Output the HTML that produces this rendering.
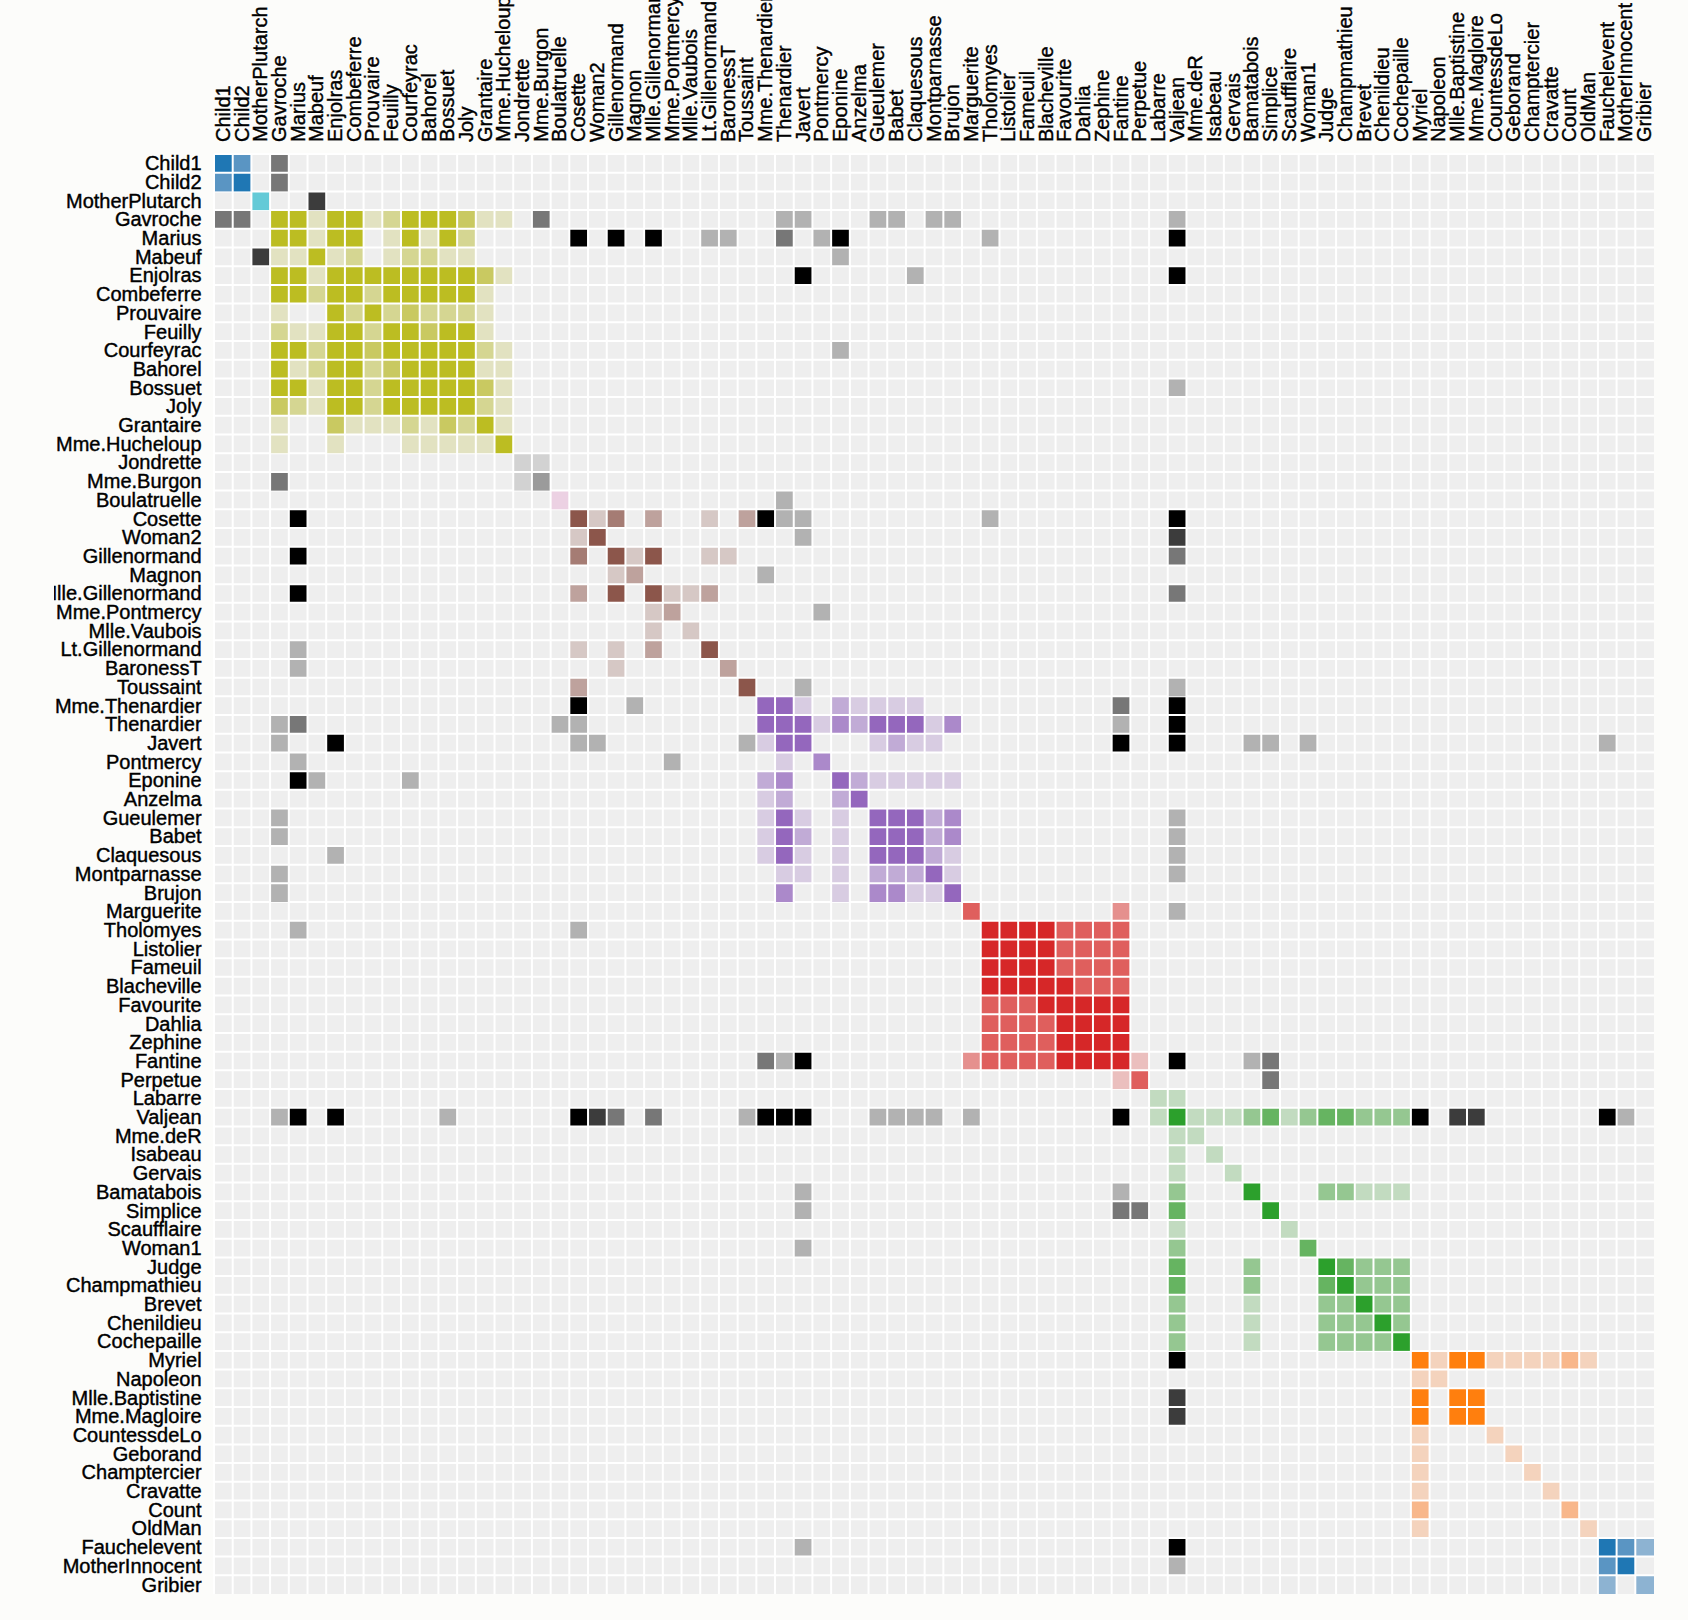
<!DOCTYPE html>
<html lang="en">
<head>
<meta charset="utf-8">
<title>Les Misérables Co-occurrence</title>
<style>
html,body{margin:0;padding:0;background:#fcfcfa;}
body{width:1688px;height:1620px;overflow:hidden;position:relative;font-family:"Liberation Sans",sans-serif;}
svg{position:absolute;left:54px;top:-6px;overflow:hidden;font:20px "Liberation Sans",sans-serif;}
.background{fill:#eee;}
line{stroke:#fff;stroke-width:2;}
text{fill:#000;stroke:#000;stroke-width:0.4px;}
</style>
</head>
<body>
<svg width="1600" height="1626" viewBox="0 0 1600 1626">
<g transform="translate(160,160)">
<rect class="background" width="1440" height="1440"/>
<g class="row" transform="translate(0,1196.88)"><rect x="1196.88" width="18.7" height="18.7" fill="#ff7f0e"/><rect x="1215.58" width="18.7" height="18.7" fill="#f4d3bd"/><rect x="1234.29" width="18.7" height="18.7" fill="#ff7f0e"/><rect x="1252.99" width="18.7" height="18.7" fill="#ff7f0e"/><rect x="1271.69" width="18.7" height="18.7" fill="#f4d3bd"/><rect x="1290.39" width="18.7" height="18.7" fill="#f4d3bd"/><rect x="1309.09" width="18.7" height="18.7" fill="#f4d3bd"/><rect x="1327.79" width="18.7" height="18.7" fill="#f4d3bd"/><rect x="1346.49" width="18.7" height="18.7" fill="#f8b78b"/><rect x="1365.19" width="18.7" height="18.7" fill="#f4d3bd"/><rect x="953.77" width="18.7" height="18.7" fill="#000000"/><line x2="1440"/><text transform="translate(0,-1196.88)" x="-12.4" y="1213" text-anchor="end">Myriel</text></g>
<g class="row" transform="translate(0,1215.58)"><rect x="1196.88" width="18.7" height="18.7" fill="#f4d3bd"/><rect x="1215.58" width="18.7" height="18.7" fill="#f4d3bd"/><line x2="1440"/><text transform="translate(0,-1215.58)" x="-12.4" y="1232" text-anchor="end">Napoleon</text></g>
<g class="row" transform="translate(0,1234.29)"><rect x="1196.88" width="18.7" height="18.7" fill="#ff7f0e"/><rect x="1234.29" width="18.7" height="18.7" fill="#ff7f0e"/><rect x="1252.99" width="18.7" height="18.7" fill="#ff7f0e"/><rect x="953.77" width="18.7" height="18.7" fill="#3c3c3c"/><line x2="1440"/><text transform="translate(0,-1234.29)" x="-12.4" y="1251" text-anchor="end">Mlle.Baptistine</text></g>
<g class="row" transform="translate(0,1252.99)"><rect x="1196.88" width="18.7" height="18.7" fill="#ff7f0e"/><rect x="1234.29" width="18.7" height="18.7" fill="#ff7f0e"/><rect x="1252.99" width="18.7" height="18.7" fill="#ff7f0e"/><rect x="953.77" width="18.7" height="18.7" fill="#3c3c3c"/><line x2="1440"/><text transform="translate(0,-1252.99)" x="-12.4" y="1269" text-anchor="end">Mme.Magloire</text></g>
<g class="row" transform="translate(0,1271.69)"><rect x="1196.88" width="18.7" height="18.7" fill="#f4d3bd"/><rect x="1271.69" width="18.7" height="18.7" fill="#f4d3bd"/><line x2="1440"/><text transform="translate(0,-1271.69)" x="-12.4" y="1288" text-anchor="end">CountessdeLo</text></g>
<g class="row" transform="translate(0,1290.39)"><rect x="1196.88" width="18.7" height="18.7" fill="#f4d3bd"/><rect x="1290.39" width="18.7" height="18.7" fill="#f4d3bd"/><line x2="1440"/><text transform="translate(0,-1290.39)" x="-12.4" y="1307" text-anchor="end">Geborand</text></g>
<g class="row" transform="translate(0,1309.09)"><rect x="1196.88" width="18.7" height="18.7" fill="#f4d3bd"/><rect x="1309.09" width="18.7" height="18.7" fill="#f4d3bd"/><line x2="1440"/><text transform="translate(0,-1309.09)" x="-12.4" y="1325" text-anchor="end">Champtercier</text></g>
<g class="row" transform="translate(0,1327.79)"><rect x="1196.88" width="18.7" height="18.7" fill="#f4d3bd"/><rect x="1327.79" width="18.7" height="18.7" fill="#f4d3bd"/><line x2="1440"/><text transform="translate(0,-1327.79)" x="-12.4" y="1344" text-anchor="end">Cravatte</text></g>
<g class="row" transform="translate(0,1346.49)"><rect x="1196.88" width="18.7" height="18.7" fill="#f8b78b"/><rect x="1346.49" width="18.7" height="18.7" fill="#f8b78b"/><line x2="1440"/><text transform="translate(0,-1346.49)" x="-12.4" y="1363" text-anchor="end">Count</text></g>
<g class="row" transform="translate(0,1365.19)"><rect x="1196.88" width="18.7" height="18.7" fill="#f4d3bd"/><rect x="1365.19" width="18.7" height="18.7" fill="#f4d3bd"/><line x2="1440"/><text transform="translate(0,-1365.19)" x="-12.4" y="1381" text-anchor="end">OldMan</text></g>
<g class="row" transform="translate(0,935.06)"><rect x="935.06" width="18.7" height="18.7" fill="#c2dbc0"/><rect x="953.77" width="18.7" height="18.7" fill="#c2dbc0"/><line x2="1440"/><text transform="translate(0,-935.06)" x="-12.4" y="951" text-anchor="end">Labarre</text></g>
<g class="row" transform="translate(0,953.77)"><rect x="1196.88" width="18.7" height="18.7" fill="#000000"/><rect x="1234.29" width="18.7" height="18.7" fill="#3c3c3c"/><rect x="1252.99" width="18.7" height="18.7" fill="#3c3c3c"/><rect x="935.06" width="18.7" height="18.7" fill="#c2dbc0"/><rect x="953.77" width="18.7" height="18.7" fill="#2ca02c"/><rect x="748.05" width="18.7" height="18.7" fill="#b2b2b2"/><rect x="972.47" width="18.7" height="18.7" fill="#c2dbc0"/><rect x="991.17" width="18.7" height="18.7" fill="#c2dbc0"/><rect x="1009.87" width="18.7" height="18.7" fill="#c2dbc0"/><rect x="897.66" width="18.7" height="18.7" fill="#000000"/><rect x="542.34" width="18.7" height="18.7" fill="#000000"/><rect x="561.04" width="18.7" height="18.7" fill="#000000"/><rect x="355.32" width="18.7" height="18.7" fill="#000000"/><rect x="579.74" width="18.7" height="18.7" fill="#000000"/><rect x="1383.9" width="18.7" height="18.7" fill="#000000"/><rect x="1028.57" width="18.7" height="18.7" fill="#95c791"/><rect x="1047.27" width="18.7" height="18.7" fill="#66b461"/><rect x="1065.97" width="18.7" height="18.7" fill="#c2dbc0"/><rect x="1084.68" width="18.7" height="18.7" fill="#95c791"/><rect x="1103.38" width="18.7" height="18.7" fill="#66b461"/><rect x="1122.08" width="18.7" height="18.7" fill="#66b461"/><rect x="1140.78" width="18.7" height="18.7" fill="#95c791"/><rect x="1159.48" width="18.7" height="18.7" fill="#95c791"/><rect x="1178.18" width="18.7" height="18.7" fill="#95c791"/><rect x="374.03" width="18.7" height="18.7" fill="#3c3c3c"/><rect x="1402.6" width="18.7" height="18.7" fill="#b2b2b2"/><rect x="56.1" width="18.7" height="18.7" fill="#b2b2b2"/><rect x="392.73" width="18.7" height="18.7" fill="#777777"/><rect x="430.13" width="18.7" height="18.7" fill="#777777"/><rect x="74.81" width="18.7" height="18.7" fill="#000000"/><rect x="112.21" width="18.7" height="18.7" fill="#000000"/><rect x="224.42" width="18.7" height="18.7" fill="#b2b2b2"/><rect x="654.55" width="18.7" height="18.7" fill="#b2b2b2"/><rect x="673.25" width="18.7" height="18.7" fill="#b2b2b2"/><rect x="691.95" width="18.7" height="18.7" fill="#b2b2b2"/><rect x="710.65" width="18.7" height="18.7" fill="#b2b2b2"/><rect x="523.64" width="18.7" height="18.7" fill="#b2b2b2"/><line x2="1440"/><text transform="translate(0,-953.77)" x="-12.4" y="970" text-anchor="end">Valjean</text></g>
<g class="row" transform="translate(0,748.05)"><rect x="953.77" width="18.7" height="18.7" fill="#b2b2b2"/><rect x="748.05" width="18.7" height="18.7" fill="#df5f5d"/><rect x="897.66" width="18.7" height="18.7" fill="#e5908e"/><line x2="1440"/><text transform="translate(0,-748.05)" x="-12.4" y="764" text-anchor="end">Marguerite</text></g>
<g class="row" transform="translate(0,972.47)"><rect x="953.77" width="18.7" height="18.7" fill="#c2dbc0"/><rect x="972.47" width="18.7" height="18.7" fill="#c2dbc0"/><line x2="1440"/><text transform="translate(0,-972.47)" x="-12.4" y="989" text-anchor="end">Mme.deR</text></g>
<g class="row" transform="translate(0,991.17)"><rect x="953.77" width="18.7" height="18.7" fill="#c2dbc0"/><rect x="991.17" width="18.7" height="18.7" fill="#c2dbc0"/><line x2="1440"/><text transform="translate(0,-991.17)" x="-12.4" y="1007" text-anchor="end">Isabeau</text></g>
<g class="row" transform="translate(0,1009.87)"><rect x="953.77" width="18.7" height="18.7" fill="#c2dbc0"/><rect x="1009.87" width="18.7" height="18.7" fill="#c2dbc0"/><line x2="1440"/><text transform="translate(0,-1009.87)" x="-12.4" y="1026" text-anchor="end">Gervais</text></g>
<g class="row" transform="translate(0,766.75)"><rect x="766.75" width="18.7" height="18.7" fill="#d62728"/><rect x="785.45" width="18.7" height="18.7" fill="#d62728"/><rect x="804.16" width="18.7" height="18.7" fill="#d62728"/><rect x="822.86" width="18.7" height="18.7" fill="#d62728"/><rect x="841.56" width="18.7" height="18.7" fill="#df5f5d"/><rect x="860.26" width="18.7" height="18.7" fill="#df5f5d"/><rect x="878.96" width="18.7" height="18.7" fill="#df5f5d"/><rect x="897.66" width="18.7" height="18.7" fill="#df5f5d"/><rect x="355.32" width="18.7" height="18.7" fill="#b2b2b2"/><rect x="74.81" width="18.7" height="18.7" fill="#b2b2b2"/><line x2="1440"/><text transform="translate(0,-766.75)" x="-12.4" y="783" text-anchor="end">Tholomyes</text></g>
<g class="row" transform="translate(0,785.45)"><rect x="766.75" width="18.7" height="18.7" fill="#d62728"/><rect x="785.45" width="18.7" height="18.7" fill="#d62728"/><rect x="804.16" width="18.7" height="18.7" fill="#d62728"/><rect x="822.86" width="18.7" height="18.7" fill="#d62728"/><rect x="841.56" width="18.7" height="18.7" fill="#df5f5d"/><rect x="860.26" width="18.7" height="18.7" fill="#df5f5d"/><rect x="878.96" width="18.7" height="18.7" fill="#df5f5d"/><rect x="897.66" width="18.7" height="18.7" fill="#df5f5d"/><line x2="1440"/><text transform="translate(0,-785.45)" x="-12.4" y="802" text-anchor="end">Listolier</text></g>
<g class="row" transform="translate(0,804.16)"><rect x="766.75" width="18.7" height="18.7" fill="#d62728"/><rect x="785.45" width="18.7" height="18.7" fill="#d62728"/><rect x="804.16" width="18.7" height="18.7" fill="#d62728"/><rect x="822.86" width="18.7" height="18.7" fill="#d62728"/><rect x="841.56" width="18.7" height="18.7" fill="#df5f5d"/><rect x="860.26" width="18.7" height="18.7" fill="#df5f5d"/><rect x="878.96" width="18.7" height="18.7" fill="#df5f5d"/><rect x="897.66" width="18.7" height="18.7" fill="#df5f5d"/><line x2="1440"/><text transform="translate(0,-804.16)" x="-12.4" y="820" text-anchor="end">Fameuil</text></g>
<g class="row" transform="translate(0,822.86)"><rect x="766.75" width="18.7" height="18.7" fill="#d62728"/><rect x="785.45" width="18.7" height="18.7" fill="#d62728"/><rect x="804.16" width="18.7" height="18.7" fill="#d62728"/><rect x="822.86" width="18.7" height="18.7" fill="#d62728"/><rect x="841.56" width="18.7" height="18.7" fill="#d62728"/><rect x="860.26" width="18.7" height="18.7" fill="#df5f5d"/><rect x="878.96" width="18.7" height="18.7" fill="#df5f5d"/><rect x="897.66" width="18.7" height="18.7" fill="#df5f5d"/><line x2="1440"/><text transform="translate(0,-822.86)" x="-12.4" y="839" text-anchor="end">Blacheville</text></g>
<g class="row" transform="translate(0,841.56)"><rect x="766.75" width="18.7" height="18.7" fill="#df5f5d"/><rect x="785.45" width="18.7" height="18.7" fill="#df5f5d"/><rect x="804.16" width="18.7" height="18.7" fill="#df5f5d"/><rect x="822.86" width="18.7" height="18.7" fill="#d62728"/><rect x="841.56" width="18.7" height="18.7" fill="#d62728"/><rect x="860.26" width="18.7" height="18.7" fill="#d62728"/><rect x="878.96" width="18.7" height="18.7" fill="#d62728"/><rect x="897.66" width="18.7" height="18.7" fill="#d62728"/><line x2="1440"/><text transform="translate(0,-841.56)" x="-12.4" y="858" text-anchor="end">Favourite</text></g>
<g class="row" transform="translate(0,860.26)"><rect x="766.75" width="18.7" height="18.7" fill="#df5f5d"/><rect x="785.45" width="18.7" height="18.7" fill="#df5f5d"/><rect x="804.16" width="18.7" height="18.7" fill="#df5f5d"/><rect x="822.86" width="18.7" height="18.7" fill="#df5f5d"/><rect x="841.56" width="18.7" height="18.7" fill="#d62728"/><rect x="860.26" width="18.7" height="18.7" fill="#d62728"/><rect x="878.96" width="18.7" height="18.7" fill="#d62728"/><rect x="897.66" width="18.7" height="18.7" fill="#d62728"/><line x2="1440"/><text transform="translate(0,-860.26)" x="-12.4" y="877" text-anchor="end">Dahlia</text></g>
<g class="row" transform="translate(0,878.96)"><rect x="766.75" width="18.7" height="18.7" fill="#df5f5d"/><rect x="785.45" width="18.7" height="18.7" fill="#df5f5d"/><rect x="804.16" width="18.7" height="18.7" fill="#df5f5d"/><rect x="822.86" width="18.7" height="18.7" fill="#df5f5d"/><rect x="841.56" width="18.7" height="18.7" fill="#d62728"/><rect x="860.26" width="18.7" height="18.7" fill="#d62728"/><rect x="878.96" width="18.7" height="18.7" fill="#d62728"/><rect x="897.66" width="18.7" height="18.7" fill="#d62728"/><line x2="1440"/><text transform="translate(0,-878.96)" x="-12.4" y="895" text-anchor="end">Zephine</text></g>
<g class="row" transform="translate(0,897.66)"><rect x="953.77" width="18.7" height="18.7" fill="#000000"/><rect x="748.05" width="18.7" height="18.7" fill="#e5908e"/><rect x="766.75" width="18.7" height="18.7" fill="#df5f5d"/><rect x="785.45" width="18.7" height="18.7" fill="#df5f5d"/><rect x="804.16" width="18.7" height="18.7" fill="#df5f5d"/><rect x="822.86" width="18.7" height="18.7" fill="#df5f5d"/><rect x="841.56" width="18.7" height="18.7" fill="#d62728"/><rect x="860.26" width="18.7" height="18.7" fill="#d62728"/><rect x="878.96" width="18.7" height="18.7" fill="#d62728"/><rect x="897.66" width="18.7" height="18.7" fill="#d62728"/><rect x="542.34" width="18.7" height="18.7" fill="#777777"/><rect x="561.04" width="18.7" height="18.7" fill="#b2b2b2"/><rect x="579.74" width="18.7" height="18.7" fill="#000000"/><rect x="1028.57" width="18.7" height="18.7" fill="#b2b2b2"/><rect x="916.36" width="18.7" height="18.7" fill="#ebbfbe"/><rect x="1047.27" width="18.7" height="18.7" fill="#777777"/><line x2="1440"/><text transform="translate(0,-897.66)" x="-12.4" y="914" text-anchor="end">Fantine</text></g>
<g class="row" transform="translate(0,542.34)"><rect x="953.77" width="18.7" height="18.7" fill="#000000"/><rect x="897.66" width="18.7" height="18.7" fill="#777777"/><rect x="542.34" width="18.7" height="18.7" fill="#9467bd"/><rect x="561.04" width="18.7" height="18.7" fill="#9467bd"/><rect x="355.32" width="18.7" height="18.7" fill="#000000"/><rect x="579.74" width="18.7" height="18.7" fill="#d8cce2"/><rect x="617.14" width="18.7" height="18.7" fill="#c1abd6"/><rect x="635.84" width="18.7" height="18.7" fill="#d8cce2"/><rect x="411.43" width="18.7" height="18.7" fill="#b2b2b2"/><rect x="654.55" width="18.7" height="18.7" fill="#d8cce2"/><rect x="673.25" width="18.7" height="18.7" fill="#d8cce2"/><rect x="691.95" width="18.7" height="18.7" fill="#d8cce2"/><line x2="1440"/><text transform="translate(0,-542.34)" x="-12.4" y="559" text-anchor="end">Mme.Thenardier</text></g>
<g class="row" transform="translate(0,561.04)"><rect x="953.77" width="18.7" height="18.7" fill="#000000"/><rect x="897.66" width="18.7" height="18.7" fill="#b2b2b2"/><rect x="542.34" width="18.7" height="18.7" fill="#9467bd"/><rect x="561.04" width="18.7" height="18.7" fill="#9467bd"/><rect x="355.32" width="18.7" height="18.7" fill="#b2b2b2"/><rect x="579.74" width="18.7" height="18.7" fill="#9467bd"/><rect x="598.44" width="18.7" height="18.7" fill="#d8cce2"/><rect x="336.62" width="18.7" height="18.7" fill="#b2b2b2"/><rect x="617.14" width="18.7" height="18.7" fill="#ab89ca"/><rect x="635.84" width="18.7" height="18.7" fill="#c1abd6"/><rect x="56.1" width="18.7" height="18.7" fill="#b2b2b2"/><rect x="74.81" width="18.7" height="18.7" fill="#777777"/><rect x="654.55" width="18.7" height="18.7" fill="#9467bd"/><rect x="673.25" width="18.7" height="18.7" fill="#9467bd"/><rect x="691.95" width="18.7" height="18.7" fill="#9467bd"/><rect x="710.65" width="18.7" height="18.7" fill="#d8cce2"/><rect x="729.35" width="18.7" height="18.7" fill="#ab89ca"/><line x2="1440"/><text transform="translate(0,-561.04)" x="-12.4" y="577" text-anchor="end">Thenardier</text></g>
<g class="row" transform="translate(0,355.32)"><rect x="953.77" width="18.7" height="18.7" fill="#000000"/><rect x="766.75" width="18.7" height="18.7" fill="#b2b2b2"/><rect x="542.34" width="18.7" height="18.7" fill="#000000"/><rect x="561.04" width="18.7" height="18.7" fill="#b2b2b2"/><rect x="355.32" width="18.7" height="18.7" fill="#8c564b"/><rect x="579.74" width="18.7" height="18.7" fill="#b2b2b2"/><rect x="374.03" width="18.7" height="18.7" fill="#d6c8c5"/><rect x="392.73" width="18.7" height="18.7" fill="#a57c74"/><rect x="430.13" width="18.7" height="18.7" fill="#bea29d"/><rect x="486.23" width="18.7" height="18.7" fill="#d6c8c5"/><rect x="74.81" width="18.7" height="18.7" fill="#000000"/><rect x="523.64" width="18.7" height="18.7" fill="#bea29d"/><line x2="1440"/><text transform="translate(0,-355.32)" x="-12.4" y="372" text-anchor="end">Cosette</text></g>
<g class="row" transform="translate(0,579.74)"><rect x="953.77" width="18.7" height="18.7" fill="#000000"/><rect x="897.66" width="18.7" height="18.7" fill="#000000"/><rect x="542.34" width="18.7" height="18.7" fill="#d8cce2"/><rect x="561.04" width="18.7" height="18.7" fill="#9467bd"/><rect x="355.32" width="18.7" height="18.7" fill="#b2b2b2"/><rect x="579.74" width="18.7" height="18.7" fill="#9467bd"/><rect x="1383.9" width="18.7" height="18.7" fill="#b2b2b2"/><rect x="1028.57" width="18.7" height="18.7" fill="#b2b2b2"/><rect x="1047.27" width="18.7" height="18.7" fill="#b2b2b2"/><rect x="1084.68" width="18.7" height="18.7" fill="#b2b2b2"/><rect x="374.03" width="18.7" height="18.7" fill="#b2b2b2"/><rect x="56.1" width="18.7" height="18.7" fill="#b2b2b2"/><rect x="112.21" width="18.7" height="18.7" fill="#000000"/><rect x="654.55" width="18.7" height="18.7" fill="#d8cce2"/><rect x="673.25" width="18.7" height="18.7" fill="#c1abd6"/><rect x="691.95" width="18.7" height="18.7" fill="#d8cce2"/><rect x="710.65" width="18.7" height="18.7" fill="#d8cce2"/><rect x="523.64" width="18.7" height="18.7" fill="#b2b2b2"/><line x2="1440"/><text transform="translate(0,-579.74)" x="-12.4" y="596" text-anchor="end">Javert</text></g>
<g class="row" transform="translate(0,1383.9)"><rect x="953.77" width="18.7" height="18.7" fill="#000000"/><rect x="579.74" width="18.7" height="18.7" fill="#b2b2b2"/><rect x="1383.9" width="18.7" height="18.7" fill="#1f77b4"/><rect x="1402.6" width="18.7" height="18.7" fill="#5a95c3"/><rect x="1421.3" width="18.7" height="18.7" fill="#8db3d2"/><line x2="1440"/><text transform="translate(0,-1383.9)" x="-12.4" y="1400" text-anchor="end">Fauchelevent</text></g>
<g class="row" transform="translate(0,1028.57)"><rect x="953.77" width="18.7" height="18.7" fill="#95c791"/><rect x="897.66" width="18.7" height="18.7" fill="#b2b2b2"/><rect x="579.74" width="18.7" height="18.7" fill="#b2b2b2"/><rect x="1028.57" width="18.7" height="18.7" fill="#2ca02c"/><rect x="1103.38" width="18.7" height="18.7" fill="#95c791"/><rect x="1122.08" width="18.7" height="18.7" fill="#95c791"/><rect x="1140.78" width="18.7" height="18.7" fill="#c2dbc0"/><rect x="1159.48" width="18.7" height="18.7" fill="#c2dbc0"/><rect x="1178.18" width="18.7" height="18.7" fill="#c2dbc0"/><line x2="1440"/><text transform="translate(0,-1028.57)" x="-12.4" y="1045" text-anchor="end">Bamatabois</text></g>
<g class="row" transform="translate(0,916.36)"><rect x="897.66" width="18.7" height="18.7" fill="#ebbfbe"/><rect x="916.36" width="18.7" height="18.7" fill="#df5f5d"/><rect x="1047.27" width="18.7" height="18.7" fill="#777777"/><line x2="1440"/><text transform="translate(0,-916.36)" x="-12.4" y="933" text-anchor="end">Perpetue</text></g>
<g class="row" transform="translate(0,1047.27)"><rect x="953.77" width="18.7" height="18.7" fill="#66b461"/><rect x="897.66" width="18.7" height="18.7" fill="#777777"/><rect x="579.74" width="18.7" height="18.7" fill="#b2b2b2"/><rect x="916.36" width="18.7" height="18.7" fill="#777777"/><rect x="1047.27" width="18.7" height="18.7" fill="#2ca02c"/><line x2="1440"/><text transform="translate(0,-1047.27)" x="-12.4" y="1064" text-anchor="end">Simplice</text></g>
<g class="row" transform="translate(0,1065.97)"><rect x="953.77" width="18.7" height="18.7" fill="#c2dbc0"/><rect x="1065.97" width="18.7" height="18.7" fill="#c2dbc0"/><line x2="1440"/><text transform="translate(0,-1065.97)" x="-12.4" y="1082" text-anchor="end">Scaufflaire</text></g>
<g class="row" transform="translate(0,1084.68)"><rect x="953.77" width="18.7" height="18.7" fill="#95c791"/><rect x="579.74" width="18.7" height="18.7" fill="#b2b2b2"/><rect x="1084.68" width="18.7" height="18.7" fill="#66b461"/><line x2="1440"/><text transform="translate(0,-1084.68)" x="-12.4" y="1101" text-anchor="end">Woman1</text></g>
<g class="row" transform="translate(0,1103.38)"><rect x="953.77" width="18.7" height="18.7" fill="#66b461"/><rect x="1028.57" width="18.7" height="18.7" fill="#95c791"/><rect x="1103.38" width="18.7" height="18.7" fill="#2ca02c"/><rect x="1122.08" width="18.7" height="18.7" fill="#66b461"/><rect x="1140.78" width="18.7" height="18.7" fill="#95c791"/><rect x="1159.48" width="18.7" height="18.7" fill="#95c791"/><rect x="1178.18" width="18.7" height="18.7" fill="#95c791"/><line x2="1440"/><text transform="translate(0,-1103.38)" x="-12.4" y="1120" text-anchor="end">Judge</text></g>
<g class="row" transform="translate(0,1122.08)"><rect x="953.77" width="18.7" height="18.7" fill="#66b461"/><rect x="1028.57" width="18.7" height="18.7" fill="#95c791"/><rect x="1103.38" width="18.7" height="18.7" fill="#66b461"/><rect x="1122.08" width="18.7" height="18.7" fill="#2ca02c"/><rect x="1140.78" width="18.7" height="18.7" fill="#95c791"/><rect x="1159.48" width="18.7" height="18.7" fill="#95c791"/><rect x="1178.18" width="18.7" height="18.7" fill="#95c791"/><line x2="1440"/><text transform="translate(0,-1122.08)" x="-12.4" y="1138" text-anchor="end">Champmathieu</text></g>
<g class="row" transform="translate(0,1140.78)"><rect x="953.77" width="18.7" height="18.7" fill="#95c791"/><rect x="1028.57" width="18.7" height="18.7" fill="#c2dbc0"/><rect x="1103.38" width="18.7" height="18.7" fill="#95c791"/><rect x="1122.08" width="18.7" height="18.7" fill="#95c791"/><rect x="1140.78" width="18.7" height="18.7" fill="#2ca02c"/><rect x="1159.48" width="18.7" height="18.7" fill="#95c791"/><rect x="1178.18" width="18.7" height="18.7" fill="#95c791"/><line x2="1440"/><text transform="translate(0,-1140.78)" x="-12.4" y="1157" text-anchor="end">Brevet</text></g>
<g class="row" transform="translate(0,1159.48)"><rect x="953.77" width="18.7" height="18.7" fill="#95c791"/><rect x="1028.57" width="18.7" height="18.7" fill="#c2dbc0"/><rect x="1103.38" width="18.7" height="18.7" fill="#95c791"/><rect x="1122.08" width="18.7" height="18.7" fill="#95c791"/><rect x="1140.78" width="18.7" height="18.7" fill="#95c791"/><rect x="1159.48" width="18.7" height="18.7" fill="#2ca02c"/><rect x="1178.18" width="18.7" height="18.7" fill="#95c791"/><line x2="1440"/><text transform="translate(0,-1159.48)" x="-12.4" y="1176" text-anchor="end">Chenildieu</text></g>
<g class="row" transform="translate(0,1178.18)"><rect x="953.77" width="18.7" height="18.7" fill="#95c791"/><rect x="1028.57" width="18.7" height="18.7" fill="#c2dbc0"/><rect x="1103.38" width="18.7" height="18.7" fill="#95c791"/><rect x="1122.08" width="18.7" height="18.7" fill="#95c791"/><rect x="1140.78" width="18.7" height="18.7" fill="#95c791"/><rect x="1159.48" width="18.7" height="18.7" fill="#95c791"/><rect x="1178.18" width="18.7" height="18.7" fill="#2ca02c"/><line x2="1440"/><text transform="translate(0,-1178.18)" x="-12.4" y="1194" text-anchor="end">Cochepaille</text></g>
<g class="row" transform="translate(0,598.44)"><rect x="561.04" width="18.7" height="18.7" fill="#d8cce2"/><rect x="598.44" width="18.7" height="18.7" fill="#ab89ca"/><rect x="448.83" width="18.7" height="18.7" fill="#b2b2b2"/><rect x="74.81" width="18.7" height="18.7" fill="#b2b2b2"/><line x2="1440"/><text transform="translate(0,-598.44)" x="-12.4" y="615" text-anchor="end">Pontmercy</text></g>
<g class="row" transform="translate(0,336.62)"><rect x="561.04" width="18.7" height="18.7" fill="#b2b2b2"/><rect x="336.62" width="18.7" height="18.7" fill="#ecd1e3"/><line x2="1440"/><text transform="translate(0,-336.62)" x="-12.4" y="353" text-anchor="end">Boulatruelle</text></g>
<g class="row" transform="translate(0,617.14)"><rect x="542.34" width="18.7" height="18.7" fill="#c1abd6"/><rect x="561.04" width="18.7" height="18.7" fill="#ab89ca"/><rect x="617.14" width="18.7" height="18.7" fill="#9467bd"/><rect x="635.84" width="18.7" height="18.7" fill="#c1abd6"/><rect x="74.81" width="18.7" height="18.7" fill="#000000"/><rect x="93.51" width="18.7" height="18.7" fill="#b2b2b2"/><rect x="187.01" width="18.7" height="18.7" fill="#b2b2b2"/><rect x="654.55" width="18.7" height="18.7" fill="#d8cce2"/><rect x="673.25" width="18.7" height="18.7" fill="#d8cce2"/><rect x="691.95" width="18.7" height="18.7" fill="#d8cce2"/><rect x="710.65" width="18.7" height="18.7" fill="#d8cce2"/><rect x="729.35" width="18.7" height="18.7" fill="#d8cce2"/><line x2="1440"/><text transform="translate(0,-617.14)" x="-12.4" y="633" text-anchor="end">Eponine</text></g>
<g class="row" transform="translate(0,635.84)"><rect x="542.34" width="18.7" height="18.7" fill="#d8cce2"/><rect x="561.04" width="18.7" height="18.7" fill="#c1abd6"/><rect x="617.14" width="18.7" height="18.7" fill="#c1abd6"/><rect x="635.84" width="18.7" height="18.7" fill="#9467bd"/><line x2="1440"/><text transform="translate(0,-635.84)" x="-12.4" y="652" text-anchor="end">Anzelma</text></g>
<g class="row" transform="translate(0,374.03)"><rect x="953.77" width="18.7" height="18.7" fill="#3c3c3c"/><rect x="355.32" width="18.7" height="18.7" fill="#d6c8c5"/><rect x="579.74" width="18.7" height="18.7" fill="#b2b2b2"/><rect x="374.03" width="18.7" height="18.7" fill="#8c564b"/><line x2="1440"/><text transform="translate(0,-374.03)" x="-12.4" y="390" text-anchor="end">Woman2</text></g>
<g class="row" transform="translate(0,1402.6)"><rect x="953.77" width="18.7" height="18.7" fill="#b2b2b2"/><rect x="1383.9" width="18.7" height="18.7" fill="#5a95c3"/><rect x="1402.6" width="18.7" height="18.7" fill="#1f77b4"/><line x2="1440"/><text transform="translate(0,-1402.6)" x="-12.4" y="1419" text-anchor="end">MotherInnocent</text></g>
<g class="row" transform="translate(0,1421.3)"><rect x="1383.9" width="18.7" height="18.7" fill="#8db3d2"/><rect x="1421.3" width="18.7" height="18.7" fill="#8db3d2"/><line x2="1440"/><text transform="translate(0,-1421.3)" x="-12.4" y="1438" text-anchor="end">Gribier</text></g>
<g class="row" transform="translate(0,299.22)"><rect x="299.22" width="18.7" height="18.7" fill="#d2d2d2"/><rect x="317.92" width="18.7" height="18.7" fill="#d2d2d2"/><line x2="1440"/><text transform="translate(0,-299.22)" x="-12.4" y="315" text-anchor="end">Jondrette</text></g>
<g class="row" transform="translate(0,317.92)"><rect x="299.22" width="18.7" height="18.7" fill="#d2d2d2"/><rect x="317.92" width="18.7" height="18.7" fill="#9b9b9b"/><rect x="56.1" width="18.7" height="18.7" fill="#777777"/><line x2="1440"/><text transform="translate(0,-317.92)" x="-12.4" y="334" text-anchor="end">Mme.Burgon</text></g>
<g class="row" transform="translate(0,56.1)"><rect x="953.77" width="18.7" height="18.7" fill="#b2b2b2"/><rect x="561.04" width="18.7" height="18.7" fill="#b2b2b2"/><rect x="579.74" width="18.7" height="18.7" fill="#b2b2b2"/><rect x="317.92" width="18.7" height="18.7" fill="#777777"/><rect x="56.1" width="18.7" height="18.7" fill="#bcbd22"/><rect x="74.81" width="18.7" height="18.7" fill="#bcbd22"/><rect x="93.51" width="18.7" height="18.7" fill="#e2e2c1"/><rect x="112.21" width="18.7" height="18.7" fill="#bcbd22"/><rect x="130.91" width="18.7" height="18.7" fill="#bcbd22"/><rect x="149.61" width="18.7" height="18.7" fill="#e2e2c1"/><rect x="168.31" width="18.7" height="18.7" fill="#d5d692"/><rect x="187.01" width="18.7" height="18.7" fill="#bcbd22"/><rect x="205.71" width="18.7" height="18.7" fill="#bcbd22"/><rect x="224.42" width="18.7" height="18.7" fill="#bcbd22"/><rect x="243.12" width="18.7" height="18.7" fill="#c9c961"/><rect x="261.82" width="18.7" height="18.7" fill="#e2e2c1"/><rect x="654.55" width="18.7" height="18.7" fill="#b2b2b2"/><rect x="673.25" width="18.7" height="18.7" fill="#b2b2b2"/><rect x="710.65" width="18.7" height="18.7" fill="#b2b2b2"/><rect x="0" width="18.7" height="18.7" fill="#777777"/><rect x="18.7" width="18.7" height="18.7" fill="#777777"/><rect x="729.35" width="18.7" height="18.7" fill="#b2b2b2"/><rect x="280.52" width="18.7" height="18.7" fill="#e2e2c1"/><line x2="1440"/><text transform="translate(0,-56.1)" x="-12.4" y="72" text-anchor="end">Gavroche</text></g>
<g class="row" transform="translate(0,392.73)"><rect x="953.77" width="18.7" height="18.7" fill="#777777"/><rect x="355.32" width="18.7" height="18.7" fill="#a57c74"/><rect x="392.73" width="18.7" height="18.7" fill="#8c564b"/><rect x="411.43" width="18.7" height="18.7" fill="#d6c8c5"/><rect x="430.13" width="18.7" height="18.7" fill="#8c564b"/><rect x="486.23" width="18.7" height="18.7" fill="#d6c8c5"/><rect x="74.81" width="18.7" height="18.7" fill="#000000"/><rect x="504.94" width="18.7" height="18.7" fill="#d6c8c5"/><line x2="1440"/><text transform="translate(0,-392.73)" x="-12.4" y="409" text-anchor="end">Gillenormand</text></g>
<g class="row" transform="translate(0,411.43)"><rect x="542.34" width="18.7" height="18.7" fill="#b2b2b2"/><rect x="392.73" width="18.7" height="18.7" fill="#d6c8c5"/><rect x="411.43" width="18.7" height="18.7" fill="#bea29d"/><line x2="1440"/><text transform="translate(0,-411.43)" x="-12.4" y="428" text-anchor="end">Magnon</text></g>
<g class="row" transform="translate(0,430.13)"><rect x="953.77" width="18.7" height="18.7" fill="#777777"/><rect x="355.32" width="18.7" height="18.7" fill="#bea29d"/><rect x="392.73" width="18.7" height="18.7" fill="#8c564b"/><rect x="430.13" width="18.7" height="18.7" fill="#8c564b"/><rect x="448.83" width="18.7" height="18.7" fill="#d6c8c5"/><rect x="467.53" width="18.7" height="18.7" fill="#d6c8c5"/><rect x="486.23" width="18.7" height="18.7" fill="#bea29d"/><rect x="74.81" width="18.7" height="18.7" fill="#000000"/><line x2="1440"/><text transform="translate(0,-430.13)" x="-12.4" y="446" text-anchor="end">Mlle.Gillenormand</text></g>
<g class="row" transform="translate(0,448.83)"><rect x="598.44" width="18.7" height="18.7" fill="#b2b2b2"/><rect x="430.13" width="18.7" height="18.7" fill="#d6c8c5"/><rect x="448.83" width="18.7" height="18.7" fill="#bea29d"/><line x2="1440"/><text transform="translate(0,-448.83)" x="-12.4" y="465" text-anchor="end">Mme.Pontmercy</text></g>
<g class="row" transform="translate(0,467.53)"><rect x="430.13" width="18.7" height="18.7" fill="#d6c8c5"/><rect x="467.53" width="18.7" height="18.7" fill="#d6c8c5"/><line x2="1440"/><text transform="translate(0,-467.53)" x="-12.4" y="484" text-anchor="end">Mlle.Vaubois</text></g>
<g class="row" transform="translate(0,486.23)"><rect x="355.32" width="18.7" height="18.7" fill="#d6c8c5"/><rect x="392.73" width="18.7" height="18.7" fill="#d6c8c5"/><rect x="430.13" width="18.7" height="18.7" fill="#bea29d"/><rect x="486.23" width="18.7" height="18.7" fill="#8c564b"/><rect x="74.81" width="18.7" height="18.7" fill="#b2b2b2"/><line x2="1440"/><text transform="translate(0,-486.23)" x="-12.4" y="502" text-anchor="end">Lt.Gillenormand</text></g>
<g class="row" transform="translate(0,74.81)"><rect x="953.77" width="18.7" height="18.7" fill="#000000"/><rect x="766.75" width="18.7" height="18.7" fill="#b2b2b2"/><rect x="561.04" width="18.7" height="18.7" fill="#777777"/><rect x="355.32" width="18.7" height="18.7" fill="#000000"/><rect x="598.44" width="18.7" height="18.7" fill="#b2b2b2"/><rect x="617.14" width="18.7" height="18.7" fill="#000000"/><rect x="56.1" width="18.7" height="18.7" fill="#bcbd22"/><rect x="392.73" width="18.7" height="18.7" fill="#000000"/><rect x="430.13" width="18.7" height="18.7" fill="#000000"/><rect x="486.23" width="18.7" height="18.7" fill="#b2b2b2"/><rect x="74.81" width="18.7" height="18.7" fill="#bcbd22"/><rect x="504.94" width="18.7" height="18.7" fill="#b2b2b2"/><rect x="93.51" width="18.7" height="18.7" fill="#e2e2c1"/><rect x="112.21" width="18.7" height="18.7" fill="#bcbd22"/><rect x="130.91" width="18.7" height="18.7" fill="#bcbd22"/><rect x="168.31" width="18.7" height="18.7" fill="#e2e2c1"/><rect x="187.01" width="18.7" height="18.7" fill="#bcbd22"/><rect x="205.71" width="18.7" height="18.7" fill="#e2e2c1"/><rect x="224.42" width="18.7" height="18.7" fill="#bcbd22"/><rect x="243.12" width="18.7" height="18.7" fill="#d5d692"/><line x2="1440"/><text transform="translate(0,-74.81)" x="-12.4" y="91" text-anchor="end">Marius</text></g>
<g class="row" transform="translate(0,504.94)"><rect x="392.73" width="18.7" height="18.7" fill="#d6c8c5"/><rect x="74.81" width="18.7" height="18.7" fill="#b2b2b2"/><rect x="504.94" width="18.7" height="18.7" fill="#bea29d"/><line x2="1440"/><text transform="translate(0,-504.94)" x="-12.4" y="521" text-anchor="end">BaronessT</text></g>
<g class="row" transform="translate(0,93.51)"><rect x="617.14" width="18.7" height="18.7" fill="#b2b2b2"/><rect x="56.1" width="18.7" height="18.7" fill="#e2e2c1"/><rect x="74.81" width="18.7" height="18.7" fill="#e2e2c1"/><rect x="93.51" width="18.7" height="18.7" fill="#bcbd22"/><rect x="112.21" width="18.7" height="18.7" fill="#e2e2c1"/><rect x="130.91" width="18.7" height="18.7" fill="#d5d692"/><rect x="168.31" width="18.7" height="18.7" fill="#e2e2c1"/><rect x="187.01" width="18.7" height="18.7" fill="#d5d692"/><rect x="205.71" width="18.7" height="18.7" fill="#d5d692"/><rect x="224.42" width="18.7" height="18.7" fill="#e2e2c1"/><rect x="243.12" width="18.7" height="18.7" fill="#e2e2c1"/><rect x="37.4" width="18.7" height="18.7" fill="#3c3c3c"/><line x2="1440"/><text transform="translate(0,-93.51)" x="-12.4" y="110" text-anchor="end">Mabeuf</text></g>
<g class="row" transform="translate(0,112.21)"><rect x="953.77" width="18.7" height="18.7" fill="#000000"/><rect x="579.74" width="18.7" height="18.7" fill="#000000"/><rect x="56.1" width="18.7" height="18.7" fill="#bcbd22"/><rect x="74.81" width="18.7" height="18.7" fill="#bcbd22"/><rect x="93.51" width="18.7" height="18.7" fill="#e2e2c1"/><rect x="112.21" width="18.7" height="18.7" fill="#bcbd22"/><rect x="130.91" width="18.7" height="18.7" fill="#bcbd22"/><rect x="149.61" width="18.7" height="18.7" fill="#bcbd22"/><rect x="168.31" width="18.7" height="18.7" fill="#bcbd22"/><rect x="187.01" width="18.7" height="18.7" fill="#bcbd22"/><rect x="205.71" width="18.7" height="18.7" fill="#bcbd22"/><rect x="224.42" width="18.7" height="18.7" fill="#bcbd22"/><rect x="243.12" width="18.7" height="18.7" fill="#bcbd22"/><rect x="261.82" width="18.7" height="18.7" fill="#c9c961"/><rect x="691.95" width="18.7" height="18.7" fill="#b2b2b2"/><rect x="280.52" width="18.7" height="18.7" fill="#e2e2c1"/><line x2="1440"/><text transform="translate(0,-112.21)" x="-12.4" y="128" text-anchor="end">Enjolras</text></g>
<g class="row" transform="translate(0,130.91)"><rect x="56.1" width="18.7" height="18.7" fill="#bcbd22"/><rect x="74.81" width="18.7" height="18.7" fill="#bcbd22"/><rect x="93.51" width="18.7" height="18.7" fill="#d5d692"/><rect x="112.21" width="18.7" height="18.7" fill="#bcbd22"/><rect x="130.91" width="18.7" height="18.7" fill="#bcbd22"/><rect x="149.61" width="18.7" height="18.7" fill="#d5d692"/><rect x="168.31" width="18.7" height="18.7" fill="#bcbd22"/><rect x="187.01" width="18.7" height="18.7" fill="#bcbd22"/><rect x="205.71" width="18.7" height="18.7" fill="#bcbd22"/><rect x="224.42" width="18.7" height="18.7" fill="#bcbd22"/><rect x="243.12" width="18.7" height="18.7" fill="#bcbd22"/><rect x="261.82" width="18.7" height="18.7" fill="#e2e2c1"/><line x2="1440"/><text transform="translate(0,-130.91)" x="-12.4" y="147" text-anchor="end">Combeferre</text></g>
<g class="row" transform="translate(0,149.61)"><rect x="56.1" width="18.7" height="18.7" fill="#e2e2c1"/><rect x="112.21" width="18.7" height="18.7" fill="#bcbd22"/><rect x="130.91" width="18.7" height="18.7" fill="#d5d692"/><rect x="149.61" width="18.7" height="18.7" fill="#bcbd22"/><rect x="168.31" width="18.7" height="18.7" fill="#d5d692"/><rect x="187.01" width="18.7" height="18.7" fill="#c9c961"/><rect x="205.71" width="18.7" height="18.7" fill="#d5d692"/><rect x="224.42" width="18.7" height="18.7" fill="#d5d692"/><rect x="243.12" width="18.7" height="18.7" fill="#d5d692"/><rect x="261.82" width="18.7" height="18.7" fill="#e2e2c1"/><line x2="1440"/><text transform="translate(0,-149.61)" x="-12.4" y="166" text-anchor="end">Prouvaire</text></g>
<g class="row" transform="translate(0,168.31)"><rect x="56.1" width="18.7" height="18.7" fill="#d5d692"/><rect x="74.81" width="18.7" height="18.7" fill="#e2e2c1"/><rect x="93.51" width="18.7" height="18.7" fill="#e2e2c1"/><rect x="112.21" width="18.7" height="18.7" fill="#bcbd22"/><rect x="130.91" width="18.7" height="18.7" fill="#bcbd22"/><rect x="149.61" width="18.7" height="18.7" fill="#d5d692"/><rect x="168.31" width="18.7" height="18.7" fill="#bcbd22"/><rect x="187.01" width="18.7" height="18.7" fill="#bcbd22"/><rect x="205.71" width="18.7" height="18.7" fill="#c9c961"/><rect x="224.42" width="18.7" height="18.7" fill="#bcbd22"/><rect x="243.12" width="18.7" height="18.7" fill="#bcbd22"/><rect x="261.82" width="18.7" height="18.7" fill="#e2e2c1"/><line x2="1440"/><text transform="translate(0,-168.31)" x="-12.4" y="185" text-anchor="end">Feuilly</text></g>
<g class="row" transform="translate(0,187.01)"><rect x="617.14" width="18.7" height="18.7" fill="#b2b2b2"/><rect x="56.1" width="18.7" height="18.7" fill="#bcbd22"/><rect x="74.81" width="18.7" height="18.7" fill="#bcbd22"/><rect x="93.51" width="18.7" height="18.7" fill="#d5d692"/><rect x="112.21" width="18.7" height="18.7" fill="#bcbd22"/><rect x="130.91" width="18.7" height="18.7" fill="#bcbd22"/><rect x="149.61" width="18.7" height="18.7" fill="#c9c961"/><rect x="168.31" width="18.7" height="18.7" fill="#bcbd22"/><rect x="187.01" width="18.7" height="18.7" fill="#bcbd22"/><rect x="205.71" width="18.7" height="18.7" fill="#bcbd22"/><rect x="224.42" width="18.7" height="18.7" fill="#bcbd22"/><rect x="243.12" width="18.7" height="18.7" fill="#bcbd22"/><rect x="261.82" width="18.7" height="18.7" fill="#d5d692"/><rect x="280.52" width="18.7" height="18.7" fill="#e2e2c1"/><line x2="1440"/><text transform="translate(0,-187.01)" x="-12.4" y="203" text-anchor="end">Courfeyrac</text></g>
<g class="row" transform="translate(0,205.71)"><rect x="56.1" width="18.7" height="18.7" fill="#bcbd22"/><rect x="74.81" width="18.7" height="18.7" fill="#e2e2c1"/><rect x="93.51" width="18.7" height="18.7" fill="#d5d692"/><rect x="112.21" width="18.7" height="18.7" fill="#bcbd22"/><rect x="130.91" width="18.7" height="18.7" fill="#bcbd22"/><rect x="149.61" width="18.7" height="18.7" fill="#d5d692"/><rect x="168.31" width="18.7" height="18.7" fill="#c9c961"/><rect x="187.01" width="18.7" height="18.7" fill="#bcbd22"/><rect x="205.71" width="18.7" height="18.7" fill="#bcbd22"/><rect x="224.42" width="18.7" height="18.7" fill="#bcbd22"/><rect x="243.12" width="18.7" height="18.7" fill="#bcbd22"/><rect x="261.82" width="18.7" height="18.7" fill="#e2e2c1"/><rect x="280.52" width="18.7" height="18.7" fill="#e2e2c1"/><line x2="1440"/><text transform="translate(0,-205.71)" x="-12.4" y="222" text-anchor="end">Bahorel</text></g>
<g class="row" transform="translate(0,224.42)"><rect x="953.77" width="18.7" height="18.7" fill="#b2b2b2"/><rect x="56.1" width="18.7" height="18.7" fill="#bcbd22"/><rect x="74.81" width="18.7" height="18.7" fill="#bcbd22"/><rect x="93.51" width="18.7" height="18.7" fill="#e2e2c1"/><rect x="112.21" width="18.7" height="18.7" fill="#bcbd22"/><rect x="130.91" width="18.7" height="18.7" fill="#bcbd22"/><rect x="149.61" width="18.7" height="18.7" fill="#d5d692"/><rect x="168.31" width="18.7" height="18.7" fill="#bcbd22"/><rect x="187.01" width="18.7" height="18.7" fill="#bcbd22"/><rect x="205.71" width="18.7" height="18.7" fill="#bcbd22"/><rect x="224.42" width="18.7" height="18.7" fill="#bcbd22"/><rect x="243.12" width="18.7" height="18.7" fill="#bcbd22"/><rect x="261.82" width="18.7" height="18.7" fill="#c9c961"/><rect x="280.52" width="18.7" height="18.7" fill="#e2e2c1"/><line x2="1440"/><text transform="translate(0,-224.42)" x="-12.4" y="241" text-anchor="end">Bossuet</text></g>
<g class="row" transform="translate(0,243.12)"><rect x="56.1" width="18.7" height="18.7" fill="#c9c961"/><rect x="74.81" width="18.7" height="18.7" fill="#d5d692"/><rect x="93.51" width="18.7" height="18.7" fill="#e2e2c1"/><rect x="112.21" width="18.7" height="18.7" fill="#bcbd22"/><rect x="130.91" width="18.7" height="18.7" fill="#bcbd22"/><rect x="149.61" width="18.7" height="18.7" fill="#d5d692"/><rect x="168.31" width="18.7" height="18.7" fill="#bcbd22"/><rect x="187.01" width="18.7" height="18.7" fill="#bcbd22"/><rect x="205.71" width="18.7" height="18.7" fill="#bcbd22"/><rect x="224.42" width="18.7" height="18.7" fill="#bcbd22"/><rect x="243.12" width="18.7" height="18.7" fill="#bcbd22"/><rect x="261.82" width="18.7" height="18.7" fill="#d5d692"/><rect x="280.52" width="18.7" height="18.7" fill="#e2e2c1"/><line x2="1440"/><text transform="translate(0,-243.12)" x="-12.4" y="259" text-anchor="end">Joly</text></g>
<g class="row" transform="translate(0,261.82)"><rect x="56.1" width="18.7" height="18.7" fill="#e2e2c1"/><rect x="112.21" width="18.7" height="18.7" fill="#c9c961"/><rect x="130.91" width="18.7" height="18.7" fill="#e2e2c1"/><rect x="149.61" width="18.7" height="18.7" fill="#e2e2c1"/><rect x="168.31" width="18.7" height="18.7" fill="#e2e2c1"/><rect x="187.01" width="18.7" height="18.7" fill="#d5d692"/><rect x="205.71" width="18.7" height="18.7" fill="#e2e2c1"/><rect x="224.42" width="18.7" height="18.7" fill="#c9c961"/><rect x="243.12" width="18.7" height="18.7" fill="#d5d692"/><rect x="261.82" width="18.7" height="18.7" fill="#bcbd22"/><rect x="280.52" width="18.7" height="18.7" fill="#e2e2c1"/><line x2="1440"/><text transform="translate(0,-261.82)" x="-12.4" y="278" text-anchor="end">Grantaire</text></g>
<g class="row" transform="translate(0,37.4)"><rect x="93.51" width="18.7" height="18.7" fill="#3c3c3c"/><rect x="37.4" width="18.7" height="18.7" fill="#63cad7"/><line x2="1440"/><text transform="translate(0,-37.4)" x="-12.4" y="54" text-anchor="end">MotherPlutarch</text></g>
<g class="row" transform="translate(0,654.55)"><rect x="953.77" width="18.7" height="18.7" fill="#b2b2b2"/><rect x="542.34" width="18.7" height="18.7" fill="#d8cce2"/><rect x="561.04" width="18.7" height="18.7" fill="#9467bd"/><rect x="579.74" width="18.7" height="18.7" fill="#d8cce2"/><rect x="617.14" width="18.7" height="18.7" fill="#d8cce2"/><rect x="56.1" width="18.7" height="18.7" fill="#b2b2b2"/><rect x="654.55" width="18.7" height="18.7" fill="#9467bd"/><rect x="673.25" width="18.7" height="18.7" fill="#9467bd"/><rect x="691.95" width="18.7" height="18.7" fill="#9467bd"/><rect x="710.65" width="18.7" height="18.7" fill="#c1abd6"/><rect x="729.35" width="18.7" height="18.7" fill="#ab89ca"/><line x2="1440"/><text transform="translate(0,-654.55)" x="-12.4" y="671" text-anchor="end">Gueulemer</text></g>
<g class="row" transform="translate(0,673.25)"><rect x="953.77" width="18.7" height="18.7" fill="#b2b2b2"/><rect x="542.34" width="18.7" height="18.7" fill="#d8cce2"/><rect x="561.04" width="18.7" height="18.7" fill="#9467bd"/><rect x="579.74" width="18.7" height="18.7" fill="#c1abd6"/><rect x="617.14" width="18.7" height="18.7" fill="#d8cce2"/><rect x="56.1" width="18.7" height="18.7" fill="#b2b2b2"/><rect x="654.55" width="18.7" height="18.7" fill="#9467bd"/><rect x="673.25" width="18.7" height="18.7" fill="#9467bd"/><rect x="691.95" width="18.7" height="18.7" fill="#9467bd"/><rect x="710.65" width="18.7" height="18.7" fill="#c1abd6"/><rect x="729.35" width="18.7" height="18.7" fill="#ab89ca"/><line x2="1440"/><text transform="translate(0,-673.25)" x="-12.4" y="689" text-anchor="end">Babet</text></g>
<g class="row" transform="translate(0,691.95)"><rect x="953.77" width="18.7" height="18.7" fill="#b2b2b2"/><rect x="542.34" width="18.7" height="18.7" fill="#d8cce2"/><rect x="561.04" width="18.7" height="18.7" fill="#9467bd"/><rect x="579.74" width="18.7" height="18.7" fill="#d8cce2"/><rect x="617.14" width="18.7" height="18.7" fill="#d8cce2"/><rect x="112.21" width="18.7" height="18.7" fill="#b2b2b2"/><rect x="654.55" width="18.7" height="18.7" fill="#9467bd"/><rect x="673.25" width="18.7" height="18.7" fill="#9467bd"/><rect x="691.95" width="18.7" height="18.7" fill="#9467bd"/><rect x="710.65" width="18.7" height="18.7" fill="#c1abd6"/><rect x="729.35" width="18.7" height="18.7" fill="#d8cce2"/><line x2="1440"/><text transform="translate(0,-691.95)" x="-12.4" y="708" text-anchor="end">Claquesous</text></g>
<g class="row" transform="translate(0,710.65)"><rect x="953.77" width="18.7" height="18.7" fill="#b2b2b2"/><rect x="561.04" width="18.7" height="18.7" fill="#d8cce2"/><rect x="579.74" width="18.7" height="18.7" fill="#d8cce2"/><rect x="617.14" width="18.7" height="18.7" fill="#d8cce2"/><rect x="56.1" width="18.7" height="18.7" fill="#b2b2b2"/><rect x="654.55" width="18.7" height="18.7" fill="#c1abd6"/><rect x="673.25" width="18.7" height="18.7" fill="#c1abd6"/><rect x="691.95" width="18.7" height="18.7" fill="#c1abd6"/><rect x="710.65" width="18.7" height="18.7" fill="#9467bd"/><rect x="729.35" width="18.7" height="18.7" fill="#d8cce2"/><line x2="1440"/><text transform="translate(0,-710.65)" x="-12.4" y="727" text-anchor="end">Montparnasse</text></g>
<g class="row" transform="translate(0,523.64)"><rect x="953.77" width="18.7" height="18.7" fill="#b2b2b2"/><rect x="355.32" width="18.7" height="18.7" fill="#bea29d"/><rect x="579.74" width="18.7" height="18.7" fill="#b2b2b2"/><rect x="523.64" width="18.7" height="18.7" fill="#8c564b"/><line x2="1440"/><text transform="translate(0,-523.64)" x="-12.4" y="540" text-anchor="end">Toussaint</text></g>
<g class="row" transform="translate(0,0)"><rect x="56.1" width="18.7" height="18.7" fill="#777777"/><rect x="0" width="18.7" height="18.7" fill="#1f77b4"/><rect x="18.7" width="18.7" height="18.7" fill="#5a95c3"/><line x2="1440"/><text transform="translate(0,0)" x="-12.4" y="16" text-anchor="end">Child1</text></g>
<g class="row" transform="translate(0,18.7)"><rect x="56.1" width="18.7" height="18.7" fill="#777777"/><rect x="0" width="18.7" height="18.7" fill="#5a95c3"/><rect x="18.7" width="18.7" height="18.7" fill="#1f77b4"/><line x2="1440"/><text transform="translate(0,-18.7)" x="-12.4" y="35" text-anchor="end">Child2</text></g>
<g class="row" transform="translate(0,729.35)"><rect x="561.04" width="18.7" height="18.7" fill="#ab89ca"/><rect x="617.14" width="18.7" height="18.7" fill="#d8cce2"/><rect x="56.1" width="18.7" height="18.7" fill="#b2b2b2"/><rect x="654.55" width="18.7" height="18.7" fill="#ab89ca"/><rect x="673.25" width="18.7" height="18.7" fill="#ab89ca"/><rect x="691.95" width="18.7" height="18.7" fill="#d8cce2"/><rect x="710.65" width="18.7" height="18.7" fill="#d8cce2"/><rect x="729.35" width="18.7" height="18.7" fill="#9467bd"/><line x2="1440"/><text transform="translate(0,-729.35)" x="-12.4" y="746" text-anchor="end">Brujon</text></g>
<g class="row" transform="translate(0,280.52)"><rect x="56.1" width="18.7" height="18.7" fill="#e2e2c1"/><rect x="112.21" width="18.7" height="18.7" fill="#e2e2c1"/><rect x="187.01" width="18.7" height="18.7" fill="#e2e2c1"/><rect x="205.71" width="18.7" height="18.7" fill="#e2e2c1"/><rect x="224.42" width="18.7" height="18.7" fill="#e2e2c1"/><rect x="243.12" width="18.7" height="18.7" fill="#e2e2c1"/><rect x="261.82" width="18.7" height="18.7" fill="#e2e2c1"/><rect x="280.52" width="18.7" height="18.7" fill="#bcbd22"/><line x2="1440"/><text transform="translate(0,-280.52)" x="-12.4" y="297" text-anchor="end">Mme.Hucheloup</text></g>
<g class="column" transform="translate(1196.88)rotate(-90)"><line x1="-1440"/></g><text transform="translate(1213,0)rotate(-90)" x="12" y="0" text-anchor="start">Myriel</text>
<g class="column" transform="translate(1215.58)rotate(-90)"><line x1="-1440"/></g><text transform="translate(1231,0)rotate(-90)" x="12" y="0" text-anchor="start">Napoleon</text>
<g class="column" transform="translate(1234.29)rotate(-90)"><line x1="-1440"/></g><text transform="translate(1250,0)rotate(-90)" x="12" y="0" text-anchor="start">Mlle.Baptistine</text>
<g class="column" transform="translate(1252.99)rotate(-90)"><line x1="-1440"/></g><text transform="translate(1269,0)rotate(-90)" x="12" y="0" text-anchor="start">Mme.Magloire</text>
<g class="column" transform="translate(1271.69)rotate(-90)"><line x1="-1440"/></g><text transform="translate(1288,0)rotate(-90)" x="12" y="0" text-anchor="start">CountessdeLo</text>
<g class="column" transform="translate(1290.39)rotate(-90)"><line x1="-1440"/></g><text transform="translate(1306,0)rotate(-90)" x="12" y="0" text-anchor="start">Geborand</text>
<g class="column" transform="translate(1309.09)rotate(-90)"><line x1="-1440"/></g><text transform="translate(1325,0)rotate(-90)" x="12" y="0" text-anchor="start">Champtercier</text>
<g class="column" transform="translate(1327.79)rotate(-90)"><line x1="-1440"/></g><text transform="translate(1344,0)rotate(-90)" x="12" y="0" text-anchor="start">Cravatte</text>
<g class="column" transform="translate(1346.49)rotate(-90)"><line x1="-1440"/></g><text transform="translate(1362,0)rotate(-90)" x="12" y="0" text-anchor="start">Count</text>
<g class="column" transform="translate(1365.19)rotate(-90)"><line x1="-1440"/></g><text transform="translate(1381,0)rotate(-90)" x="12" y="0" text-anchor="start">OldMan</text>
<g class="column" transform="translate(935.06)rotate(-90)"><line x1="-1440"/></g><text transform="translate(951,0)rotate(-90)" x="12" y="0" text-anchor="start">Labarre</text>
<g class="column" transform="translate(953.77)rotate(-90)"><line x1="-1440"/></g><text transform="translate(970,0)rotate(-90)" x="12" y="0" text-anchor="start">Valjean</text>
<g class="column" transform="translate(748.05)rotate(-90)"><line x1="-1440"/></g><text transform="translate(764,0)rotate(-90)" x="12" y="0" text-anchor="start">Marguerite</text>
<g class="column" transform="translate(972.47)rotate(-90)"><line x1="-1440"/></g><text transform="translate(988,0)rotate(-90)" x="12" y="0" text-anchor="start">Mme.deR</text>
<g class="column" transform="translate(991.17)rotate(-90)"><line x1="-1440"/></g><text transform="translate(1007,0)rotate(-90)" x="12" y="0" text-anchor="start">Isabeau</text>
<g class="column" transform="translate(1009.87)rotate(-90)"><line x1="-1440"/></g><text transform="translate(1026,0)rotate(-90)" x="12" y="0" text-anchor="start">Gervais</text>
<g class="column" transform="translate(766.75)rotate(-90)"><line x1="-1440"/></g><text transform="translate(783,0)rotate(-90)" x="12" y="0" text-anchor="start">Tholomyes</text>
<g class="column" transform="translate(785.45)rotate(-90)"><line x1="-1440"/></g><text transform="translate(801,0)rotate(-90)" x="12" y="0" text-anchor="start">Listolier</text>
<g class="column" transform="translate(804.16)rotate(-90)"><line x1="-1440"/></g><text transform="translate(820,0)rotate(-90)" x="12" y="0" text-anchor="start">Fameuil</text>
<g class="column" transform="translate(822.86)rotate(-90)"><line x1="-1440"/></g><text transform="translate(839,0)rotate(-90)" x="12" y="0" text-anchor="start">Blacheville</text>
<g class="column" transform="translate(841.56)rotate(-90)"><line x1="-1440"/></g><text transform="translate(857,0)rotate(-90)" x="12" y="0" text-anchor="start">Favourite</text>
<g class="column" transform="translate(860.26)rotate(-90)"><line x1="-1440"/></g><text transform="translate(876,0)rotate(-90)" x="12" y="0" text-anchor="start">Dahlia</text>
<g class="column" transform="translate(878.96)rotate(-90)"><line x1="-1440"/></g><text transform="translate(895,0)rotate(-90)" x="12" y="0" text-anchor="start">Zephine</text>
<g class="column" transform="translate(897.66)rotate(-90)"><line x1="-1440"/></g><text transform="translate(914,0)rotate(-90)" x="12" y="0" text-anchor="start">Fantine</text>
<g class="column" transform="translate(542.34)rotate(-90)"><line x1="-1440"/></g><text transform="translate(558,0)rotate(-90)" x="12" y="0" text-anchor="start">Mme.Thenardier</text>
<g class="column" transform="translate(561.04)rotate(-90)"><line x1="-1440"/></g><text transform="translate(577,0)rotate(-90)" x="12" y="0" text-anchor="start">Thenardier</text>
<g class="column" transform="translate(355.32)rotate(-90)"><line x1="-1440"/></g><text transform="translate(371,0)rotate(-90)" x="12" y="0" text-anchor="start">Cosette</text>
<g class="column" transform="translate(579.74)rotate(-90)"><line x1="-1440"/></g><text transform="translate(596,0)rotate(-90)" x="12" y="0" text-anchor="start">Javert</text>
<g class="column" transform="translate(1383.9)rotate(-90)"><line x1="-1440"/></g><text transform="translate(1400,0)rotate(-90)" x="12" y="0" text-anchor="start">Fauchelevent</text>
<g class="column" transform="translate(1028.57)rotate(-90)"><line x1="-1440"/></g><text transform="translate(1044,0)rotate(-90)" x="12" y="0" text-anchor="start">Bamatabois</text>
<g class="column" transform="translate(916.36)rotate(-90)"><line x1="-1440"/></g><text transform="translate(932,0)rotate(-90)" x="12" y="0" text-anchor="start">Perpetue</text>
<g class="column" transform="translate(1047.27)rotate(-90)"><line x1="-1440"/></g><text transform="translate(1063,0)rotate(-90)" x="12" y="0" text-anchor="start">Simplice</text>
<g class="column" transform="translate(1065.97)rotate(-90)"><line x1="-1440"/></g><text transform="translate(1082,0)rotate(-90)" x="12" y="0" text-anchor="start">Scaufflaire</text>
<g class="column" transform="translate(1084.68)rotate(-90)"><line x1="-1440"/></g><text transform="translate(1101,0)rotate(-90)" x="12" y="0" text-anchor="start">Woman1</text>
<g class="column" transform="translate(1103.38)rotate(-90)"><line x1="-1440"/></g><text transform="translate(1119,0)rotate(-90)" x="12" y="0" text-anchor="start">Judge</text>
<g class="column" transform="translate(1122.08)rotate(-90)"><line x1="-1440"/></g><text transform="translate(1138,0)rotate(-90)" x="12" y="0" text-anchor="start">Champmathieu</text>
<g class="column" transform="translate(1140.78)rotate(-90)"><line x1="-1440"/></g><text transform="translate(1157,0)rotate(-90)" x="12" y="0" text-anchor="start">Brevet</text>
<g class="column" transform="translate(1159.48)rotate(-90)"><line x1="-1440"/></g><text transform="translate(1175,0)rotate(-90)" x="12" y="0" text-anchor="start">Chenildieu</text>
<g class="column" transform="translate(1178.18)rotate(-90)"><line x1="-1440"/></g><text transform="translate(1194,0)rotate(-90)" x="12" y="0" text-anchor="start">Cochepaille</text>
<g class="column" transform="translate(598.44)rotate(-90)"><line x1="-1440"/></g><text transform="translate(614,0)rotate(-90)" x="12" y="0" text-anchor="start">Pontmercy</text>
<g class="column" transform="translate(336.62)rotate(-90)"><line x1="-1440"/></g><text transform="translate(352,0)rotate(-90)" x="12" y="0" text-anchor="start">Boulatruelle</text>
<g class="column" transform="translate(617.14)rotate(-90)"><line x1="-1440"/></g><text transform="translate(633,0)rotate(-90)" x="12" y="0" text-anchor="start">Eponine</text>
<g class="column" transform="translate(635.84)rotate(-90)"><line x1="-1440"/></g><text transform="translate(652,0)rotate(-90)" x="12" y="0" text-anchor="start">Anzelma</text>
<g class="column" transform="translate(374.03)rotate(-90)"><line x1="-1440"/></g><text transform="translate(390,0)rotate(-90)" x="12" y="0" text-anchor="start">Woman2</text>
<g class="column" transform="translate(1402.6)rotate(-90)"><line x1="-1440"/></g><text transform="translate(1418,0)rotate(-90)" x="12" y="0" text-anchor="start">MotherInnocent</text>
<g class="column" transform="translate(1421.3)rotate(-90)"><line x1="-1440"/></g><text transform="translate(1437,0)rotate(-90)" x="12" y="0" text-anchor="start">Gribier</text>
<g class="column" transform="translate(299.22)rotate(-90)"><line x1="-1440"/></g><text transform="translate(315,0)rotate(-90)" x="12" y="0" text-anchor="start">Jondrette</text>
<g class="column" transform="translate(317.92)rotate(-90)"><line x1="-1440"/></g><text transform="translate(334,0)rotate(-90)" x="12" y="0" text-anchor="start">Mme.Burgon</text>
<g class="column" transform="translate(56.1)rotate(-90)"><line x1="-1440"/></g><text transform="translate(72,0)rotate(-90)" x="12" y="0" text-anchor="start">Gavroche</text>
<g class="column" transform="translate(392.73)rotate(-90)"><line x1="-1440"/></g><text transform="translate(409,0)rotate(-90)" x="12" y="0" text-anchor="start">Gillenormand</text>
<g class="column" transform="translate(411.43)rotate(-90)"><line x1="-1440"/></g><text transform="translate(427,0)rotate(-90)" x="12" y="0" text-anchor="start">Magnon</text>
<g class="column" transform="translate(430.13)rotate(-90)"><line x1="-1440"/></g><text transform="translate(446,0)rotate(-90)" x="12" y="0" text-anchor="start">Mlle.Gillenormand</text>
<g class="column" transform="translate(448.83)rotate(-90)"><line x1="-1440"/></g><text transform="translate(465,0)rotate(-90)" x="12" y="0" text-anchor="start">Mme.Pontmercy</text>
<g class="column" transform="translate(467.53)rotate(-90)"><line x1="-1440"/></g><text transform="translate(483,0)rotate(-90)" x="12" y="0" text-anchor="start">Mlle.Vaubois</text>
<g class="column" transform="translate(486.23)rotate(-90)"><line x1="-1440"/></g><text transform="translate(502,0)rotate(-90)" x="12" y="0" text-anchor="start">Lt.Gillenormand</text>
<g class="column" transform="translate(74.81)rotate(-90)"><line x1="-1440"/></g><text transform="translate(91,0)rotate(-90)" x="12" y="0" text-anchor="start">Marius</text>
<g class="column" transform="translate(504.94)rotate(-90)"><line x1="-1440"/></g><text transform="translate(521,0)rotate(-90)" x="12" y="0" text-anchor="start">BaronessT</text>
<g class="column" transform="translate(93.51)rotate(-90)"><line x1="-1440"/></g><text transform="translate(109,0)rotate(-90)" x="12" y="0" text-anchor="start">Mabeuf</text>
<g class="column" transform="translate(112.21)rotate(-90)"><line x1="-1440"/></g><text transform="translate(128,0)rotate(-90)" x="12" y="0" text-anchor="start">Enjolras</text>
<g class="column" transform="translate(130.91)rotate(-90)"><line x1="-1440"/></g><text transform="translate(147,0)rotate(-90)" x="12" y="0" text-anchor="start">Combeferre</text>
<g class="column" transform="translate(149.61)rotate(-90)"><line x1="-1440"/></g><text transform="translate(165,0)rotate(-90)" x="12" y="0" text-anchor="start">Prouvaire</text>
<g class="column" transform="translate(168.31)rotate(-90)"><line x1="-1440"/></g><text transform="translate(184,0)rotate(-90)" x="12" y="0" text-anchor="start">Feuilly</text>
<g class="column" transform="translate(187.01)rotate(-90)"><line x1="-1440"/></g><text transform="translate(203,0)rotate(-90)" x="12" y="0" text-anchor="start">Courfeyrac</text>
<g class="column" transform="translate(205.71)rotate(-90)"><line x1="-1440"/></g><text transform="translate(222,0)rotate(-90)" x="12" y="0" text-anchor="start">Bahorel</text>
<g class="column" transform="translate(224.42)rotate(-90)"><line x1="-1440"/></g><text transform="translate(240,0)rotate(-90)" x="12" y="0" text-anchor="start">Bossuet</text>
<g class="column" transform="translate(243.12)rotate(-90)"><line x1="-1440"/></g><text transform="translate(259,0)rotate(-90)" x="12" y="0" text-anchor="start">Joly</text>
<g class="column" transform="translate(261.82)rotate(-90)"><line x1="-1440"/></g><text transform="translate(278,0)rotate(-90)" x="12" y="0" text-anchor="start">Grantaire</text>
<g class="column" transform="translate(37.4)rotate(-90)"><line x1="-1440"/></g><text transform="translate(53,0)rotate(-90)" x="12" y="0" text-anchor="start">MotherPlutarch</text>
<g class="column" transform="translate(654.55)rotate(-90)"><line x1="-1440"/></g><text transform="translate(670,0)rotate(-90)" x="12" y="0" text-anchor="start">Gueulemer</text>
<g class="column" transform="translate(673.25)rotate(-90)"><line x1="-1440"/></g><text transform="translate(689,0)rotate(-90)" x="12" y="0" text-anchor="start">Babet</text>
<g class="column" transform="translate(691.95)rotate(-90)"><line x1="-1440"/></g><text transform="translate(708,0)rotate(-90)" x="12" y="0" text-anchor="start">Claquesous</text>
<g class="column" transform="translate(710.65)rotate(-90)"><line x1="-1440"/></g><text transform="translate(727,0)rotate(-90)" x="12" y="0" text-anchor="start">Montparnasse</text>
<g class="column" transform="translate(523.64)rotate(-90)"><line x1="-1440"/></g><text transform="translate(539,0)rotate(-90)" x="12" y="0" text-anchor="start">Toussaint</text>
<g class="column" transform="translate(0)rotate(-90)"><line x1="-1440"/></g><text transform="translate(16,0)rotate(-90)" x="12" y="0" text-anchor="start">Child1</text>
<g class="column" transform="translate(18.7)rotate(-90)"><line x1="-1440"/></g><text transform="translate(35,0)rotate(-90)" x="12" y="0" text-anchor="start">Child2</text>
<g class="column" transform="translate(729.35)rotate(-90)"><line x1="-1440"/></g><text transform="translate(745,0)rotate(-90)" x="12" y="0" text-anchor="start">Brujon</text>
<g class="column" transform="translate(280.52)rotate(-90)"><line x1="-1440"/></g><text transform="translate(296,0)rotate(-90)" x="12" y="0" text-anchor="start">Mme.Hucheloup</text>
</g>
</svg>
</body>
</html>
